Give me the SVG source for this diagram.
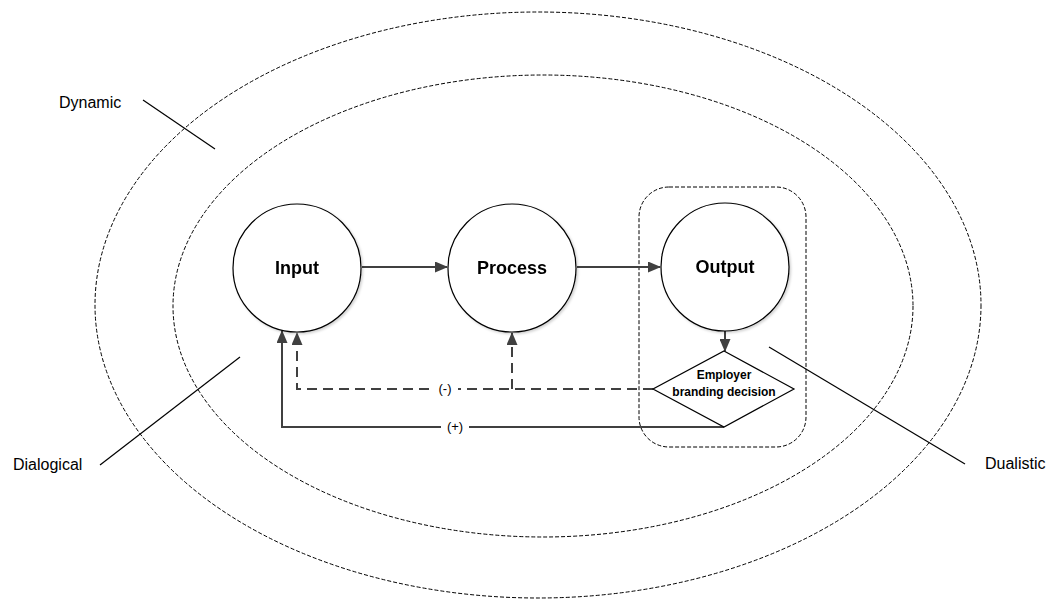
<svg xmlns="http://www.w3.org/2000/svg" width="1063" height="599" viewBox="0 0 1063 599">
<style>
.ring{fill:none;stroke:#000;stroke-width:1;stroke-dasharray:4 2}
.node{fill:#fff;stroke:#000;stroke-width:1.2}
.lbl{font-family:"Liberation Sans",Arial,sans-serif;font-size:16px;fill:#000}
.big{font-family:"Liberation Sans",Arial,sans-serif;font-size:18px;font-weight:bold;fill:#000}
.small{font-family:"Liberation Sans",Arial,sans-serif;font-size:12px;font-weight:bold;fill:#000}
.conn{fill:none;stroke:#404040;stroke-width:2}
.dash{stroke-dasharray:10 6}
.lead{stroke:#000;stroke-width:1.2;fill:none}
.tag{font-family:"Liberation Sans",Arial,sans-serif;font-size:13px;fill:#000}
</style>
<defs>
<marker id="arr" markerWidth="13" markerHeight="11" refX="12" refY="5.5" orient="auto" markerUnits="userSpaceOnUse">
<path d="M0,0 L13,5.5 L0,11 Z" fill="#404040"/>
</marker>
<filter id="sh" x="-10%" y="-10%" width="125%" height="125%">
<feDropShadow dx="1.5" dy="1.5" stdDeviation="0.8" flood-color="#000" flood-opacity="0.18"/>
</filter>
</defs>
<rect width="1063" height="599" fill="#fff"/>
<g id="rings">
<ellipse class="ring" cx="538" cy="305" rx="443" ry="293"/>
<ellipse class="ring" cx="543" cy="306" rx="370" ry="231"/>
<rect class="ring" x="639" y="187" width="167" height="260" rx="30" ry="30"/>
</g>
<g id="labels">
<text class="lbl" x="59" y="108">Dynamic</text>
<line class="lead" x1="143" y1="100" x2="215" y2="149"/>
<text class="lbl" x="13" y="470">Dialogical</text>
<line class="lead" x1="100" y1="465" x2="240" y2="357"/>
<text class="lbl" x="985" y="469">Dualistic</text>
<line class="lead" x1="769" y1="347" x2="965" y2="464"/>
</g>
<g id="connectors">
<line class="conn" x1="362" y1="267" x2="447" y2="267" marker-end="url(#arr)"/>
<line class="conn" x1="577" y1="267" x2="660" y2="267" marker-end="url(#arr)"/>
<line class="conn" x1="725" y1="331" x2="725" y2="351" marker-end="url(#arr)"/>
<polyline class="conn dash" points="653,389 297,389 297,333" marker-end="url(#arr)"/>
<line class="conn dash" x1="512" y1="389" x2="512" y2="333" marker-end="url(#arr)"/>
<polyline class="conn" points="724,427 282,427 282,331" marker-end="url(#arr)"/>
<rect x="432" y="381" width="26" height="16" fill="#fff"/>
<text class="tag" x="445" y="393" text-anchor="middle">(-)</text>
<rect x="441" y="419" width="28" height="16" fill="#fff"/>
<text class="tag" x="455" y="431" text-anchor="middle">(+)</text>
</g>
<g id="input" filter="url(#sh)">
<circle class="node" cx="297" cy="268" r="64"/>
<text class="big" x="297" y="274" text-anchor="middle">Input</text>
</g>
<g id="process" filter="url(#sh)">
<circle class="node" cx="512" cy="268" r="64"/>
<text class="big" x="512" y="274" text-anchor="middle">Process</text>
</g>
<g id="output" filter="url(#sh)">
<circle class="node" cx="725" cy="267" r="64"/>
<text class="big" x="725" y="273" text-anchor="middle">Output</text>
</g>
<g id="decision">
<polygon class="node" points="724,351 794,389 724,427 653,389"/>
<text class="small" x="724" y="379" text-anchor="middle">Employer</text>
<text class="small" x="724" y="396" text-anchor="middle">branding decision</text>
</g>
</svg>
